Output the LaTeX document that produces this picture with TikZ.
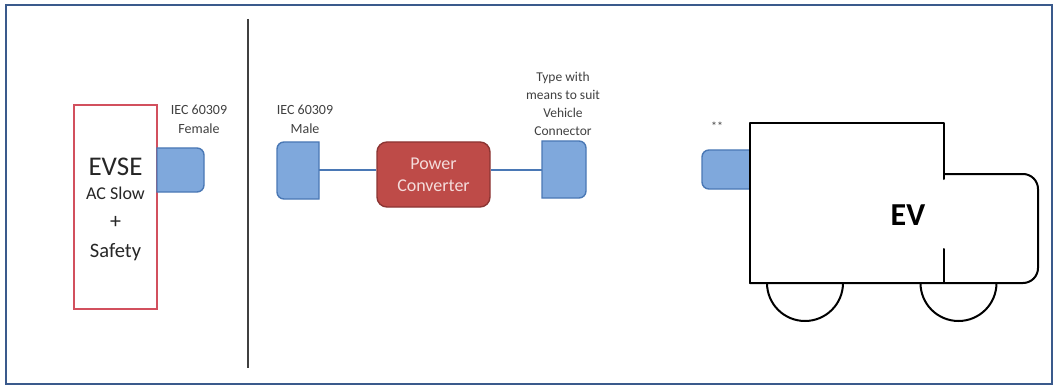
\documentclass[tikz,border=0pt]{standalone}
\usepackage{fontspec}
\setmainfont{Carlito}
\begin{document}
\definecolor{frameblue}{HTML}{3A5A8C}
\definecolor{plugfill}{HTML}{7FA8DC}
\definecolor{plugedge}{HTML}{4A78B5}
\definecolor{convfill}{HTML}{BE4B48}
\definecolor{convedge}{HTML}{8C3533}
\definecolor{convtext}{HTML}{F4DCDB}
\definecolor{evseedge}{HTML}{D2505E}
\definecolor{labelgray}{HTML}{404040}
\begin{tikzpicture}[x=1pt,y=1pt,
  plugbox/.style={minimum width=#1, inner sep=0pt, outer sep=0pt},
  plugdraw/.style={fill=plugfill, draw=plugedge, line width=1.4pt},
  wire/.style={draw=plugedge, line width=1.1pt},
  lbl/.style={font=\fontsize{14}{18.5}\selectfont, text=labelgray, align=center, inner sep=0pt},
  evline/.style={line width=2pt, line join=round, line cap=round}]
\useasboundingbox (0,0) rectangle (1058,389);
\draw[frameblue, line width=1.6pt] (6,5) rectangle (1052,384);

% divider between the supply side and the cable side
\coordinate (divtop) at (248,370);
\coordinate (divbot) at (248,21);
\draw[labelgray, line width=1.3pt] (divtop) -- (divbot);

% EVSE unit
\node[draw=evseedge, line width=1.4pt, minimum width=83, minimum height=204, inner sep=0pt] (evse) at (115.5,182) {};
\node[font=\fontsize{27}{30}\selectfont, text=black!85] (evsetitle) at (115.5,222) {EVSE};
\node[font=\fontsize{18}{20}\selectfont, text=black!85] (evseac) at (115.5,196) {AC Slow};
\node[font=\fontsize{22}{24}\selectfont, text=black!85] (evseplus) at (115.5,167) {+};
\node[font=\fontsize{20.5}{22}\selectfont, text=black!85] (evsesafe) at (115.5,137) {Safety};

% socket on the EVSE (rounded on the right)
\node[plugbox=47, minimum height=44] (fem) at (180.5,219) {};
\draw[plugdraw] (fem.north west) -- ([xshift=-7pt]fem.north east)
  arc[start angle=90, end angle=0, radius=7pt] -- ([yshift=7pt]fem.south east)
  arc[start angle=0, end angle=-90, radius=7pt] -- (fem.south west) -- cycle;
\node[lbl] (femlbl) at (199,269.5) {IEC 60309\\Female};

% plug on the cable (rounded on the left)
\node[plugbox=42, minimum height=57] (male) at (298,218.5) {};
\draw[plugdraw] (male.north east) -- ([xshift=7pt]male.north west)
  arc[start angle=90, end angle=180, radius=7pt] -- ([yshift=7pt]male.south west)
  arc[start angle=180, end angle=270, radius=7pt] -- (male.south east) -- cycle;
\node[lbl] (malelbl) at (305,269.5) {IEC 60309\\Male};

% power converter
\node[draw=convedge, fill=convfill, line width=1.4pt, rounded corners=10pt,
  minimum width=113, minimum height=65, inner sep=0pt, align=center,
  text=convtext, font=\fontsize{18}{22}\selectfont] (conv) at (433.5,214.5) {Power\\Converter};

% vehicle-side connector (rounded on the right)
\node[plugbox=44, minimum height=57] (veh) at (564,219.5) {};
\draw[plugdraw] (veh.north west) -- ([xshift=-7pt]veh.north east)
  arc[start angle=90, end angle=0, radius=7pt] -- ([yshift=7pt]veh.south east)
  arc[start angle=0, end angle=-90, radius=7pt] -- (veh.south west) -- cycle;
\node[lbl, font=\fontsize{13.5}{17.8}\selectfont] (vehlbl) at (563,285) {Type with\\means to suit\\Vehicle\\Connector};

% cable
\draw[wire] (male.east |- 0,219) -- (conv.west |- 0,219);
\draw[wire] (conv.east |- 0,219) -- (veh.west |- 0,219);

% inlet on the vehicle (rounded on the left)
\node[plugbox=48, minimum height=39] (inlet) at (726,219.5) {};
\draw[plugdraw] (inlet.north east) -- ([xshift=7pt]inlet.north west)
  arc[start angle=90, end angle=180, radius=7pt] -- ([yshift=7pt]inlet.south west)
  arc[start angle=180, end angle=270, radius=7pt] -- (inlet.south east) -- cycle;
\node[font=\fontsize{12}{12}\selectfont, text=labelgray, inner sep=0pt] (stars) at (717,263) {**};

% vehicle outline
\coordinate (bodytl) at (750,266);
\coordinate (bodytr) at (944,266);
\coordinate (bodybl) at (750,106);
\coordinate (bodybr) at (944,106);
\draw[evline] (bodybl) -- (bodytl) -- (bodytr) -- (944,210);
\draw[evline] (944,140) -- (bodybr);
\draw[evline] (944,215) -- (1023,215) arc[start angle=90, end angle=0, radius=15]
  -- (1038,121) arc[start angle=0, end angle=-90, radius=15] -- (bodybl);
% wheels
\draw[evline] (767,106) arc[start angle=180, end angle=360, radius=38];
\draw[evline] (920.5,106) arc[start angle=180, end angle=360, radius=38];
\node[font=\bfseries\fontsize{32}{34}\selectfont] (evlbl) at (908,174) {EV};
\end{tikzpicture}
\end{document}
